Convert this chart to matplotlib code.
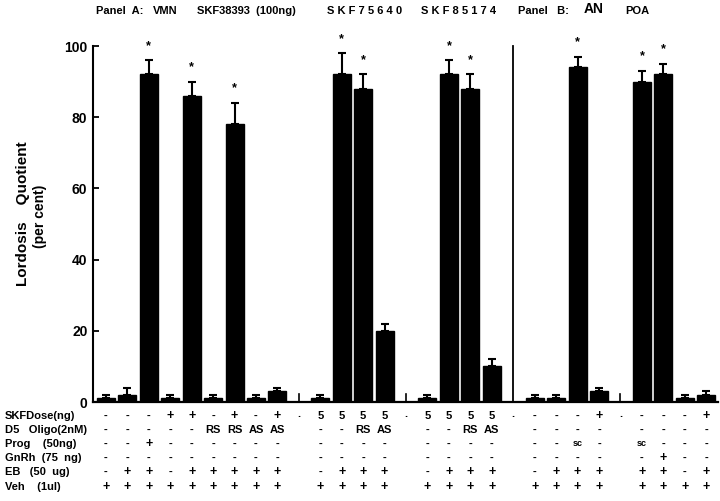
import matplotlib
matplotlib.use('Agg')
import matplotlib.pyplot as plt
from matplotlib.transforms import blended_transform_factory

plt.rcParams['font.family'] = ['Liberation Sans', 'DejaVu Sans']
plt.rcParams['font.weight'] = 'bold'

# ---------------- data ----------------
group_sizes = [9, 4, 4, 4, 4]          # bars per group (gaps between groups)
values = [1, 2, 92, 1, 86, 1, 78, 1, 3,
          1, 92, 88, 20,
          1, 92, 88, 10,
          1, 1, 94, 3,
          90, 92, 1, 2]
errors = [1, 2, 4, 1, 4, 1, 6, 1, 1,
          1, 6, 4, 2,
          1, 4, 4, 2,
          1, 1, 3, 1,
          3, 3, 1, 1]
stars = [0, 0, 1, 0, 1, 0, 1, 0, 0,
         0, 1, 1, 0,
         0, 1, 1, 0,
         0, 0, 1, 0,
         1, 1, 0, 0]

row_labels = ["SKFDose(ng)", "D5   Oligo(2nM)", "Prog    (50ng)",
              "GnRh  (75  ng)", "EB   (50  ug)", "Veh    (1ul)"]
skf_dose = ['-', '-', '-', '+', '+', '-', '+', '-', '+',
            '5', '5', '5', '5',
            '5', '5', '5', '5',
            '-', '-', '-', '+',
            '-', '-', '-', '+']
d5_oligo = ['-', '-', '-', '-', '-', 'RS', 'RS', 'AS', 'AS',
            '-', '-', 'RS', 'AS',
            '-', '-', 'RS', 'AS',
            '-', '-', '-', '-',
            '-', '-', '-', '-']
prog = ['-', '-', '+', '-', '-', '-', '-', '-', '-',
        '-', '-', '-', '-',
        '-', '-', '-', '-',
        '-', '-', 'sc', '-',
        'sc', '-', '-', '-']
gnrh = ['-', '-', '-', '-', '-', '-', '-', '-', '-',
        '-', '-', '-', '-',
        '-', '-', '-', '-',
        '-', '-', '-', '-',
        '-', '+', '-', '-']
eb = ['-', '+', '+', '-', '+', '+', '+', '+', '+',
      '-', '+', '+', '+',
      '-', '+', '+', '+',
      '-', '+', '+', '+',
      '+', '+', '-', '+']
veh = ['+'] * 25
table_rows = [skf_dose, d5_oligo, prog, gnrh, eb, veh]

panel_titles = ["Panel  A:", "VMN", "SKF38393  (100ng)", "S K F 7 5 6 4 0",
                "S K F 8 5 1 7 4", "Panel   B:", "AN", "POA"]

# ---------------- layout ----------------
positions = []
gap_positions = []
slot = 0
for gi, n in enumerate(group_sizes):
    for k in range(n):
        positions.append(slot)
        slot += 1
    if gi < len(group_sizes) - 1:
        gap_positions.append(slot)
        slot += 1

W, H = 720, 501
fig = plt.figure(figsize=(W / 100, H / 100), dpi=100)
ax = fig.add_axes([93 / W, 1 - 402 / H, (718 - 93) / W, (402 - 46) / H])

ax.bar(positions, values, width=0.84, color='black', edgecolor='black', zorder=2)
ax.errorbar(positions, values, yerr=[[0] * len(errors), errors], fmt='none',
            ecolor='black', elinewidth=1.5, capsize=3.2, capthick=1.5, zorder=3)

for x, v, e, s in zip(positions, values, errors, stars):
    if s:
        ax.text(x, v + e + 3.2, '*', ha='center', va='baseline', fontsize=9,
                fontweight='bold', clip_on=False)

# divider between panels and small gap ticks
ax.plot([gap_positions[2], gap_positions[2]], [0, 100], color='black', lw=1.3,
        clip_on=False)
for g in [gap_positions[0], gap_positions[1], gap_positions[3]]:
    ax.plot([g, g], [0, 2.2], color='black', lw=1.2)

ax.set_xlim(-0.6, 28.55)
ax.set_ylim(0, 100)
ax.set_yticks([0, 20, 40, 60, 80, 100])
ax.set_yticklabels(['0', '20', '40', '60', '80', '100'], fontsize=10, fontweight='bold')
ax.tick_params(axis='y', direction='in', length=4, width=1.3, pad=4)
ax.set_xticks([])
for sp in ['top', 'right']:
    ax.spines[sp].set_visible(False)
ax.spines['left'].set_linewidth(1.5)
ax.spines['bottom'].set_linewidth(1.6)

# y label
fig.text(23 / W, 1 - 214 / H, 'Lordosis    Quotient', rotation=90, ha='center',
         va='center', fontsize=11, fontweight='bold')
fig.text(40 / W, 1 - 216 / H, '(per cent)', rotation=90, ha='center',
         va='center', fontsize=10, fontweight='bold')

# panel titles
title_x = [96, 153, 197, 327, 421, 518, 584, 625]
for t, xp in zip(panel_titles, title_x):
    fs = 10 if t == 'AN' else 8
    yp = 9 if t == 'AN' else 11
    fig.text(xp / W, 1 - yp / H, t, ha='left', va='center', fontsize=fs,
             fontweight='bold')

# treatment table
tr = blended_transform_factory(ax.transData, fig.transFigure)
row_y = [416, 430, 444, 458, 472, 487]
for lbl, row, yp in zip(row_labels, table_rows, row_y):
    fig.text(5 / W, 1 - yp / H, lbl, ha='left', va='center', fontsize=8,
             fontweight='bold')
    for x, s in zip(positions, row):
        fs = 6.5 if s == 'sc' else (9 if s == '+' else 8)
        ax.text(x, 1 - yp / H, s, transform=tr, ha='center', va='center',
                fontsize=fs, fontweight='bold', clip_on=False)
for g in gap_positions:
    ax.text(g, 1 - 414 / H, '.', transform=tr, ha='center', va='center',
            fontsize=8, fontweight='bold', clip_on=False)

fig.savefig('out.png', dpi=100)
